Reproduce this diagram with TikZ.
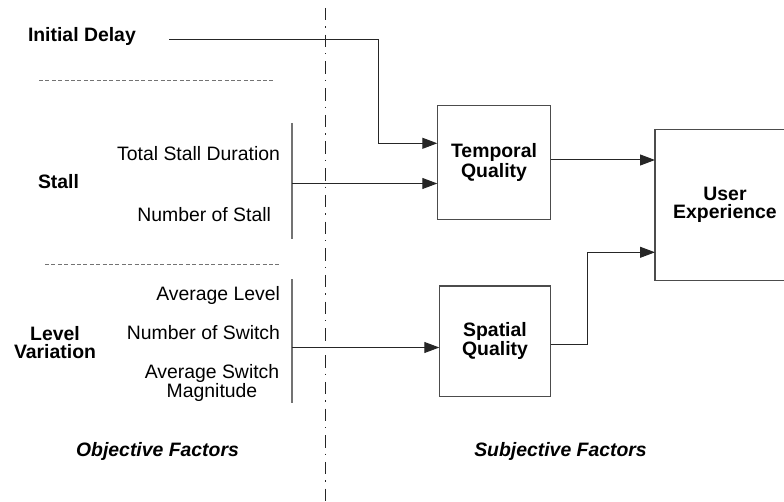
\documentclass[tikz,border=0pt]{standalone}
\usepackage{fontspec}
\setmainfont{Liberation Sans}
\usetikzlibrary{arrows.meta}

\begin{document}
\begin{tikzpicture}[x=1pt,y=-1pt,
  every node/.style={inner sep=0pt, outer sep=0pt, font=\fontsize{19.4}{17.6}\selectfont},
  head/.style={font=\fontsize{19.4}{18}\selectfont\bfseries, align=center},
  item/.style={font=\fontsize{19.4}{16.5}\selectfont, align=center},
  factor/.style={font=\fontsize{19.4}{17.6}\selectfont\bfseries\itshape},
  blockbox/.style={draw=black!70, line width=1.2pt, align=center,
                   font=\fontsize{19.4}{18}\selectfont\bfseries},
  conn/.style={draw=black!85, line width=1pt,
               -{Triangle[length=15pt,width=11pt]}},
  bracket/.style={draw=black!55, line width=1.6pt},
  separator/.style={draw=black!55, line width=0.9pt, dash pattern=on 4pt off 2.4pt},
  divider/.style={draw=black!85, line width=1.3pt,
                  dash pattern=on 12.5pt off 6pt on 1.3pt off 6.9pt}
]
\useasboundingbox (0,0) rectangle (784,502);
\clip (0,0) rectangle (784,502);

% vertical divider between objective and subjective parts
\coordinate (divtop) at (325.7,8);
\coordinate (divbot) at (325.7,510);
\draw[divider] (divtop) -- (divbot);

% objective factors (base anchor of a two-line node sits on its last line)
\node[head, anchor=base west] (delay) at (28,42) {Initial Delay};
\node[head, anchor=base west] (stall) at (38,189) {Stall};
\node[head, anchor=base] (level) at (55,358.5) {Level\\Variation};

\node[item, anchor=base east] (tsd) at (280,160.5) {Total Stall Duration};
\node[item, anchor=base east] (nos) at (271,222) {Number of Stall};
\node[item, anchor=base east] (avl) at (280,300.5) {Average Level};
\node[item, anchor=base east] (nsw) at (280,340) {Number of Switch};
\node[item, anchor=base] (asm) at (212,397.7) {Average Switch\\Magnitude};

% separators between factor groups
\coordinate (sepAl) at (39,80);
\coordinate (sepAr) at (274,80);
\coordinate (sepBl) at (45,264);
\coordinate (sepBr) at (280,264);
\draw[separator] (sepAl) -- (sepAr);
\draw[separator] (sepBl) -- (sepBr);

% group brackets
\coordinate (stTop) at (292,123);
\coordinate (stBot) at (292,239.3);
\coordinate (stMid) at (292,183.5);
\coordinate (lvTop) at (292,279.3);
\coordinate (lvBot) at (292,402.7);
\coordinate (lvMid) at (292,347.5);
\draw[bracket] (stTop) -- (stBot);
\draw[bracket] (lvTop) -- (lvBot);

% quality blocks
\node[blockbox, minimum width=113.4pt, minimum height=113.6pt] (temporal) at (494,162.5) {Temporal\\Quality};
\node[blockbox, minimum width=111.4pt, minimum height=110.7pt] (spatial) at (495,341.3) {Spatial\\Quality};
\node[blockbox, minimum width=140pt, minimum height=151.7pt] (ux) at (725,205) {User\\Experience};

% connectors (shifts are in page direction: positive is upward)
\coordinate (dstart) at (169,40);
\coordinate (dbend) at (378,40);
\draw[conn] (dstart) -- (dbend) |- ([yshift=19.2pt]temporal.west);
\draw[conn] (stMid) -- (stMid -| temporal.west);
\draw[conn] (lvMid) -- (lvMid -| spatial.west);
\draw[conn] ([yshift=2.5pt]temporal.east) -- ([yshift=2.5pt]temporal.east -| ux.west);
\coordinate (spbend) at (587.7,344.3);
\draw[conn] (spbend -| spatial.east) -- (spbend) |- ([yshift=-47.3pt]ux.west);

% column captions
\node[factor, anchor=base] (obj) at (157.5,456.7) {Objective Factors};
\node[factor, anchor=base] (subj) at (560.5,456.7) {Subjective Factors};
\end{tikzpicture}
\end{document}
